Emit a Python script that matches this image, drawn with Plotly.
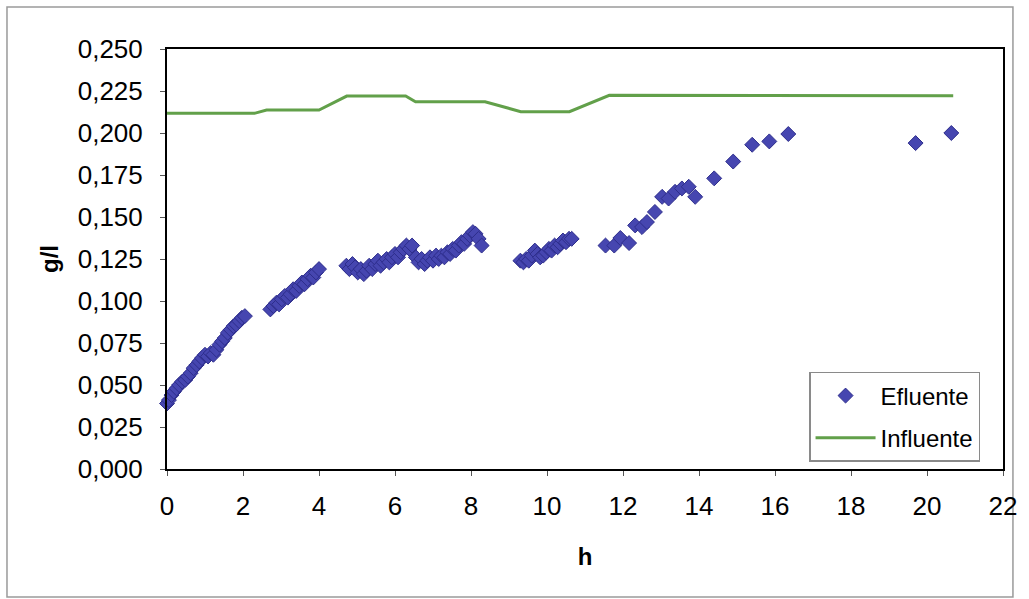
import plotly.graph_objects as go

# Efluente: measured concentration (g/l) against time (h)
efl_h = [
    0.00, 0.05, 0.12, 0.18, 0.25, 0.32, 0.40, 0.48, 0.55, 0.62, 0.70, 0.78,
    0.85, 0.92, 1.00, 1.08, 1.15, 1.22, 1.30, 1.38, 1.45, 1.52, 1.60, 1.68,
    1.75, 1.82, 1.90, 1.97, 2.05,
    2.72, 2.80, 2.88, 2.95, 3.02, 3.10, 3.18, 3.25, 3.32, 3.40, 3.48, 3.55,
    3.62, 3.70, 3.78, 3.85, 3.92, 4.00,
    4.72, 4.80, 4.88, 4.95, 5.02, 5.10, 5.18, 5.25, 5.32, 5.40, 5.48, 5.55,
    5.62, 5.70, 5.78, 5.85, 5.92, 6.00, 6.08, 6.15, 6.22, 6.30, 6.38, 6.45,
    6.55, 6.62, 6.70, 6.78, 6.85, 6.92, 7.00, 7.08, 7.15, 7.22, 7.30, 7.38,
    7.45, 7.52, 7.60, 7.68, 7.75, 7.82, 7.90, 7.97, 8.05, 8.12, 8.20, 8.28,
    9.30, 9.38, 9.45, 9.52, 9.60, 9.68, 9.75, 9.82, 9.90, 9.98, 10.05, 10.12,
    10.20, 10.28, 10.35, 10.42, 10.50, 10.58, 10.65,
    11.54, 11.77, 11.93, 12.16, 12.32, 12.50, 12.63, 12.84, 13.03, 13.20,
    13.37, 13.55, 13.73, 13.90, 14.40, 14.90, 15.40, 15.85, 16.35,
    19.70, 20.64,
]
efl_gl = [
    0.039, 0.041, 0.044, 0.046, 0.048, 0.050, 0.052, 0.053, 0.055, 0.057, 0.060, 0.062,
    0.064, 0.066, 0.068, 0.067, 0.069, 0.068, 0.071, 0.074, 0.076, 0.078, 0.081, 0.083,
    0.085, 0.086, 0.088, 0.090, 0.091,
    0.095, 0.097, 0.099, 0.098, 0.101, 0.103, 0.102, 0.104, 0.107, 0.106, 0.109, 0.111,
    0.110, 0.113, 0.115, 0.114, 0.117, 0.119,
    0.121, 0.119, 0.122, 0.120, 0.117, 0.119, 0.116, 0.118, 0.121, 0.119, 0.122, 0.124,
    0.121, 0.123, 0.125, 0.123, 0.126, 0.128, 0.126, 0.129, 0.131, 0.133, 0.131, 0.133,
    0.126, 0.123, 0.125, 0.122, 0.124, 0.126, 0.124, 0.127, 0.125, 0.127, 0.126, 0.129,
    0.128, 0.131, 0.130, 0.133, 0.135, 0.134, 0.137, 0.139, 0.141, 0.140, 0.137, 0.133,
    0.124, 0.123, 0.125, 0.124, 0.127, 0.130, 0.128, 0.126, 0.127, 0.129, 0.131, 0.130,
    0.133, 0.132, 0.134, 0.136, 0.135, 0.137, 0.137,
    0.133, 0.133, 0.1375, 0.1345, 0.145, 0.144, 0.147, 0.153, 0.162, 0.161,
    0.165, 0.167, 0.168, 0.162, 0.173, 0.183, 0.193, 0.195, 0.1994,
    0.194, 0.200,
]

# Influente: feed concentration (g/l), piecewise profile
inf_h = [0.00, 2.30, 2.62, 4.00, 4.73, 6.28, 6.54, 8.37, 9.31, 10.59, 11.64, 20.69]
inf_gl = [0.2117, 0.2117, 0.2137, 0.2137, 0.2220, 0.2220, 0.2186, 0.2186,
          0.2127, 0.2127, 0.2224, 0.2222]

x_ticks = list(range(0, 23, 2))

FONT = "Liberation Sans, Arial, sans-serif"

fig = go.Figure()

fig.add_trace(go.Scatter(
    x=efl_h, y=efl_gl, mode="markers", name="Efluente",
    legendgroup="a",
    marker=dict(symbol="diamond", size=11.5, color="#4646B0",
                line=dict(color="#2E2E8C", width=1)),
    cliponaxis=False,
))

fig.add_trace(go.Scatter(
    x=inf_h, y=inf_gl, mode="lines", name="Influente",
    legendgroup="b",
    line=dict(color="#62A04A", width=3),
))

fig.update_layout(
    width=1029, height=599,
    margin=dict(l=167, r=21, t=49, b=130),
    paper_bgcolor="white", plot_bgcolor="white",
    separators=",.",
    font=dict(family=FONT, size=26, color="black"),
    showlegend=True,
    legend=dict(
        x=0.768, y=0.231, xanchor="left", yanchor="top",
        bgcolor="white", bordercolor="#8a8a8a", borderwidth=1.5,
        font=dict(family=FONT, size=24, color="black"),
        tracegroupgap=8, traceorder="grouped",
        itemwidth=60,
    ),
    xaxis=dict(
        range=[0, 22], tickvals=x_ticks, ticktext=[str(v) for v in x_ticks],
        showgrid=False, zeroline=False,
        showline=True, linecolor="black", linewidth=2, mirror=True,
        ticks="outside", ticklen=5, tickcolor="#555", tickwidth=1,
        tickfont=dict(family=FONT, size=26),
        ticklabelstandoff=8,
        title=dict(text="h", font=dict(family=FONT, size=24, weight="bold"),
                   standoff=28),
    ),
    yaxis=dict(
        range=[0, 0.25], dtick=0.025, tickformat=".3f",
        showgrid=False, zeroline=False,
        showline=True, linecolor="black", linewidth=2, mirror=True,
        ticks="outside", ticklen=5, tickcolor="#555", tickwidth=1,
        tickfont=dict(family=FONT, size=26),
        ticklabelstandoff=12,
        title=dict(text="g/l", font=dict(family=FONT, size=24, weight="bold"),
                   standoff=12),
    ),
    shapes=[
        # outer chart-area frame
        dict(type="rect", xref="paper", yref="paper",
             x0=-0.1914, x1=1.0119, y0=-0.3048, y1=1.1,
             line=dict(color="#9a9a9a", width=1.5), fillcolor="rgba(0,0,0,0)",
             layer="below"),
    ],
)

fig.write_html("out.html")
